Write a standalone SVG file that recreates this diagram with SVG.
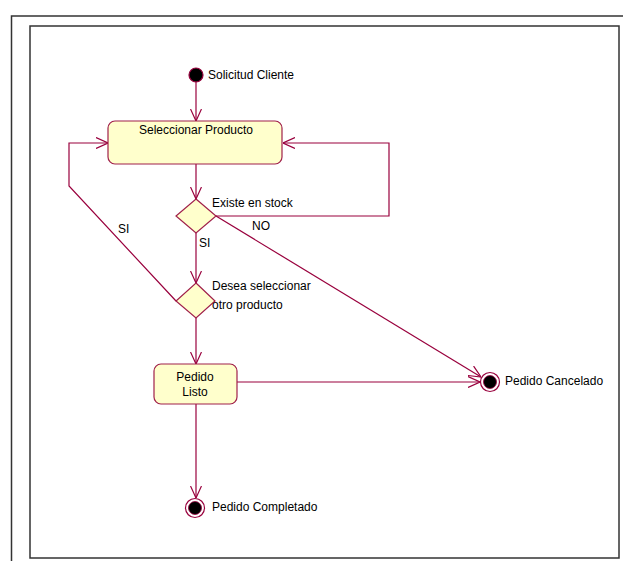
<svg xmlns="http://www.w3.org/2000/svg" width="623" height="561" viewBox="0 0 623 561">
  <style>
    .frame { fill: none; stroke: #333333; stroke-width: 1.5; }
    .state { fill: #FFFFCC; stroke: #A0204A; stroke-width: 1.2; }
    .edge { fill: none; stroke: #99003D; stroke-width: 1.2; }
    .lbl { font-family: "Liberation Sans", Arial, sans-serif; font-size: 12px; fill: #000000; }
    .mid { text-anchor: middle; }
  </style>
  <defs>
    <marker id="open" viewBox="0 0 12 12" refX="12" refY="6" markerWidth="12" markerHeight="12" markerUnits="userSpaceOnUse" orient="auto">
      <path d="M0,0.5 L12,6 L0,11.5" fill="none" stroke="#99003D" stroke-width="1.2"/>
    </marker>
  </defs>

  <rect width="623" height="561" fill="#ffffff"/>

  <!-- page frame -->
  <path class="frame" d="M11.5,561 V16 H623"/>
  <rect class="frame" x="30" y="26" width="589" height="532"/>

  <!-- connectors -->
  <g id="connectors">
    <line class="edge" x1="196" y1="82" x2="196" y2="121" marker-end="url(#open)"/>
    <line class="edge" x1="196" y1="164" x2="196" y2="199" marker-end="url(#open)"/>
    <polyline class="edge" points="216,216 389,216 389,143 283,143" marker-end="url(#open)"/>
    <line class="edge" x1="216" y1="216" x2="481" y2="377" marker-end="url(#open)"/>
    <line class="edge" x1="196" y1="233" x2="196" y2="283" marker-end="url(#open)"/>
    <polyline class="edge" points="176,301 69,186 69,143 108,143" marker-end="url(#open)"/>
    <line class="edge" x1="196" y1="318" x2="196" y2="364" marker-end="url(#open)"/>
    <line class="edge" x1="237" y1="382" x2="480" y2="382" marker-end="url(#open)"/>
    <line class="edge" x1="196" y1="404" x2="196" y2="498" marker-end="url(#open)"/>
    <text class="lbl" x="252" y="230">NO</text>
    <text class="lbl" x="199" y="247">SI</text>
    <text class="lbl" x="118" y="233">SI</text>
  </g>

  <g id="inicio">
    <circle cx="196" cy="75" r="7" fill="#000000" stroke="#99003D" stroke-width="1.2"/>
    <text class="lbl" x="208" y="79">Solicitud Cliente</text>
  </g>

  <g id="seleccionar-producto">
    <rect class="state" x="108" y="121" width="174" height="43" rx="7"/>
    <text class="lbl mid" x="196" y="134">Seleccionar Producto</text>
  </g>

  <g id="existe-en-stock">
    <polygon class="state" points="196,199 216,216 196,233 176,216"/>
    <text class="lbl" x="212" y="207">Existe en stock</text>
  </g>

  <g id="desea-seleccionar">
    <polygon class="state" points="196,283 215,301 196,318 176,301"/>
    <text class="lbl" x="212" y="290">Desea seleccionar</text>
    <text class="lbl" x="212" y="309">otro producto</text>
  </g>

  <g id="pedido-listo">
    <rect class="state" x="154" y="364" width="83" height="40" rx="7"/>
    <text class="lbl mid" x="195" y="381">Pedido</text>
    <text class="lbl mid" x="195" y="396">Listo</text>
  </g>

  <g id="pedido-cancelado">
    <circle cx="490" cy="382" r="9.5" fill="#ffffff" stroke="#99003D" stroke-width="1.2"/>
    <circle cx="490" cy="382" r="6.5" fill="#000000" stroke="#99003D" stroke-width="0.8"/>
    <text class="lbl" x="505" y="385">Pedido Cancelado</text>
  </g>

  <g id="pedido-completado">
    <circle cx="195" cy="508" r="9.5" fill="#ffffff" stroke="#99003D" stroke-width="1.2"/>
    <circle cx="195" cy="508" r="6.5" fill="#000000" stroke="#99003D" stroke-width="0.8"/>
    <text class="lbl" x="212" y="511">Pedido Completado</text>
  </g>
</svg>
